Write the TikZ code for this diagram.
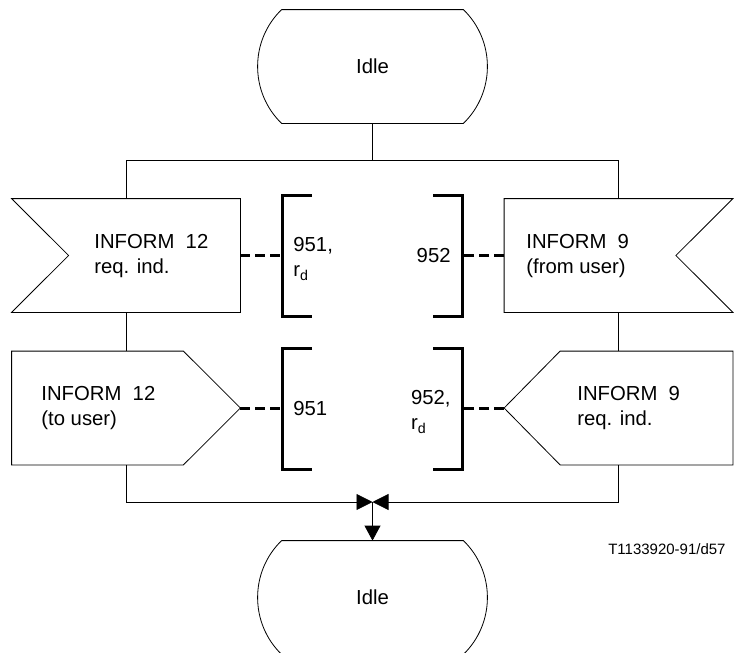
\documentclass[tikz,border=0pt]{standalone}
\usepackage{fontspec}
\setmainfont{Liberation Sans}
\usetikzlibrary{arrows.meta}

\begin{document}
\begin{tikzpicture}[x=1pt, y=-1pt, line width=0.8pt,
  frame/.style={inner sep=0pt, minimum width=228pt, minimum height=113pt},
  state/.style={inner sep=0pt, minimum width=181pt, minimum height=113pt, font=\fontsize{20.3}{25}\selectfont},
  txt/.style={anchor=west, align=left, inner sep=0pt, font=\fontsize{20.3}{25}\selectfont},
  ref/.style={align=left, inner sep=0pt, font=\fontsize{20.3}{25}\selectfont},
  link/.style={line width=3pt, dash pattern=on 10pt off 5pt},
  brack/.style={line width=3pt},
  flow/.style={-{Triangle[length=16pt,width=16pt]}}]
    \useasboundingbox (0,0) rectangle (734,653);

    % states
    \node[state] (idleA) at (372.5,66.5) {Idle};
    \node[state] (idleB) at (372.5,597.5) {Idle};
    \draw (idleA.north west) -- (idleA.north east) .. controls +(32,31) and +(32,-31) .. (idleA.south east)
          -- (idleA.south west) .. controls +(-32,-31) and +(-32,31) .. (idleA.north west);
    \draw (idleB.north west) -- (idleB.north east) .. controls +(32,31) and +(32,-31) .. (idleB.south east)
          -- (idleB.south west) .. controls +(-32,-31) and +(-32,31) .. (idleB.north west);

    % inputs
    \node[frame] (inL) at (126,255.5) {};
    \node[frame] (inR) at (618.5,255.5) {};
    \draw (inL.north west) -- (inL.north east) -- (inL.south east) -- (inL.south west) -- ([xshift=57pt]inL.west) -- cycle;
    \draw (inR.north west) -- (inR.north east) -- ([xshift=-57pt]inR.east) -- (inR.south east) -- (inR.south west) -- cycle;
    \node[txt] (inLt) at (94,256) {INFORM\ \ 12\\req. ind.};
    \node[txt] (inRt) at (526,256) {INFORM\ \ 9\\(from user)};

    % outputs
    \node[frame] (outL) at (126,408) {};
    \node[frame] (outR) at (618.5,408) {};
    \draw (outL.north west) -- ([xshift=-57pt]outL.north east) -- (outL.east) -- ([xshift=-57pt]outL.south east) -- (outL.south west) -- cycle;
    \draw (outR.west) -- ([xshift=56pt]outR.north west) -- (outR.north east) -- (outR.south east) -- ([xshift=56pt]outR.south west) -- cycle;
    \node[txt] (outLt) at (41,408) {INFORM\ \ 12\\(to user)};
    \node[txt] (outRt) at (577,408) {INFORM\ \ 9\\req. ind.};

    % flow lines
    \coordinate (forkL) at (126,160);
    \coordinate (forkR) at (618.5,160);
    \coordinate (merge) at (372.5,502);
    \draw (idleA.south) -- (idleA.south |- forkL);
    \draw (inL.north) |- (forkR) -- (inR.north);
    \draw (inL.south) -- (outL.north);
    \draw (inR.south) -- (outR.north);
    \draw[flow] (outL.south) |- (merge);
    \draw[flow] (outR.south) |- (merge);
    \draw[-{Triangle[length=15pt,width=16pt]}] (merge) -- (idleB.north);

    % comments
    \coordinate (bL1) at (282,255.5);
    \coordinate (bL2) at (282,408);
    \coordinate (bR1) at (462,255.5);
    \coordinate (bR2) at (462,408);
    \draw[brack] (312,195) -| (282,316) -- (312,316);
    \draw[brack] (312,348) -| (282,469) -- (312,469);
    \draw[brack] (433,195) -| (462,316) -- (433,316);
    \draw[brack] (433,348) -| (462,469) -- (433,469);
    \draw[link] (inL.east) -- (bL1);
    \draw[link] (outL.east) -- (bL2);
    \draw[link] (inR.west) -- (bR1);
    \draw[link] (outR.west) -- (bR2);
    \node[ref, anchor=west] (nL1) at (293,259) {951,\\r\textsubscript{d}};
    \node[ref, anchor=west] (nL2) at (293,409) {951};
    \node[ref, anchor=east] (nR1) at (451,256) {952};
    \node[ref, anchor=east] (nR2) at (451,412) {952,\\r\textsubscript{d}};

    \node[anchor=east, inner sep=0pt, font=\fontsize{15}{18}\selectfont] (fig) at (726,549) {T1133920-91/d57};
\end{tikzpicture}
\end{document}
